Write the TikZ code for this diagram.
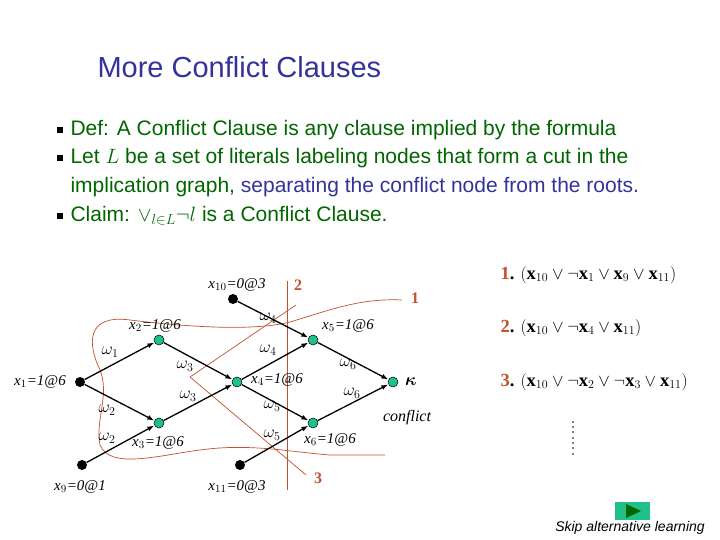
\documentclass[tikz,border=0pt]{standalone}
\usepackage{amsmath}
\usepackage{bm}
\usepackage{fontspec}
\setmainfont{Liberation Serif}
\setsansfont{Liberation Sans}
\usetikzlibrary{arrows.meta}
\definecolor{navy}{HTML}{333399}
\definecolor{dgreen}{HTML}{006600}
\definecolor{cut}{HTML}{C0522D}
\definecolor{nodegreen}{HTML}{20C08A}
\begin{document}
\begin{tikzpicture}[x=1pt,y=-1pt,
  blk/.style={circle,fill=black,inner sep=0pt,minimum size=10pt},
  grn/.style={circle,fill=nodegreen,draw=black,line width=0.5pt,inner sep=0pt,minimum size=10pt},
  edge/.style={line width=1.3pt,-{Latex[length=7pt,width=5pt]}},
  lab/.style={font=\fontsize{15}{15}\selectfont\itshape},
  wl/.style={font=\fontsize{17}{17}\selectfont},
  cutl/.style={cut,line width=0.7pt},
  cnum/.style={cut,font=\fontsize{16}{16}\selectfont\bfseries},
  body/.style={font=\sffamily\fontsize{21}{21}\selectfont,anchor=west,dgreen},
  clause/.style={anchor=west,font=\fontsize{18.5}{18.5}\selectfont},
  bul/.style={fill=black,minimum size=6pt,inner sep=0pt}]
\useasboundingbox (0,0) rectangle (720,540);
\fill[white] (0,0) rectangle (720,540);
\node[font=\sffamily\fontsize{29}{29}\selectfont,navy,anchor=west] (title) at (94,67) {More Conflict Clauses};
\node[bul] (b1) at (60,130) {};
\node[bul] (b2) at (60,158) {};
\node[bul] (b3) at (60,216) {};
\node[body] (t1) at (67,130) {Def: A Conflict Clause is any clause implied by the formula};
\node[body] (t2) at (67,158) {Let $L$ be a set of literals labeling nodes that form a cut in the};
\node[body] (t3) at (67,187) {implication graph, \textcolor{navy}{separating the conflict node from the roots.}};
\node[body] (t4) at (67,216) {Claim: $\vee_{l\in L}\neg l$ is a Conflict Clause.};
% cuts
\draw[cutl] (287,281) -- (287,490);
\draw[cutl] (296,305) -- (190,377) -- (306,475);
\draw[cutl] (402,300) .. controls (360,298) and (330,310) .. (290,322)
  .. controls (250,332) and (180,326) .. (130,320)
  .. controls (85,314) and (88,345) .. (100,370)
  .. controls (110,395) and (95,420) .. (100,445)
  .. controls (110,470) and (160,455) .. (200,450)
  .. controls (250,443) and (290,452) .. (330,455)
  -- (385,455);
\node[cnum] (c1) at (415,298) {1};
\node[cnum] (c2) at (298,285) {2};
\node[cnum] (c3) at (318,478) {3};
% nodes
\node[blk] (x1) at (80,382) {};
\node[grn] (x2) at (159,340) {};
\node[grn] (x3) at (159,423) {};
\node[blk] (x9) at (82,465) {};
\node[grn] (x4) at (237,382) {};
\node[blk] (x10) at (233,299) {};
\node[grn] (x5) at (313,340) {};
\node[grn] (x6) at (313,423) {};
\node[blk] (x11) at (240,465) {};
\node[grn] (k) at (393,382) {};
\draw[edge] (x1) -- (x2);
\draw[edge] (x1) -- (x3);
\draw[edge] (x9) -- (x3);
\draw[edge] (x2) -- (x4);
\draw[edge] (x3) -- (x4);
\draw[edge] (x10) -- (x5);
\draw[edge] (x4) -- (x5);
\draw[edge] (x4) -- (x6);
\draw[edge] (x11) -- (x6);
\draw[edge] (x5) -- (k);
\draw[edge] (x6) -- (k);
% labels
\node[lab] (lx10) at (237,285) {x$_{10}$=0@3};
\node[lab] (lx2) at (155,326) {x$_2$=1@6};
\node[lab] (lx5) at (348,326) {x$_5$=1@6};
\node[lab] (lx1) at (40,382) {x$_1$=1@6};
\node[lab] (lx4) at (277,380) {x$_4$=1@6};
\node[lab] (lx3) at (158,443) {x$_3$=1@6};
\node[lab] (lx6) at (330,440) {x$_6$=1@6};
\node[lab] (lx9) at (80,487) {x$_9$=0@1};
\node[lab] (lx11) at (237,487) {x$_{11}$=0@3};
\node[wl] (lk) at (411,382) {$\bm{\kappa}$};
\node[lab,font=\fontsize{16}{16}\selectfont\itshape] (lc) at (407,418) {conflict};
\node[wl] (w1) at (110,352) {$\omega_1$};
\node[wl] (w2a) at (107,410) {$\omega_2$};
\node[wl] (w2b) at (107,438) {$\omega_2$};
\node[wl] (w3a) at (185,366) {$\omega_3$};
\node[wl] (w3b) at (188,396) {$\omega_3$};
\node[wl] (w4a) at (268,318) {$\omega_4$};
\node[wl] (w4b) at (268,350) {$\omega_4$};
\node[wl] (w5a) at (272,406) {$\omega_5$};
\node[wl] (w5b) at (272,435) {$\omega_5$};
\node[wl] (w6a) at (348,364) {$\omega_6$};
\node[wl] (w6b) at (352,393) {$\omega_6$};
% clauses
\node[clause] (cl1) at (497,275) {\textcolor{cut}{\textbf{1}}\textbf{.} $(\mathbf{x}_{10}\vee\neg\mathbf{x}_1\vee\mathbf{x}_9\vee\mathbf{x}_{11})$};
\node[clause] (cl2) at (497,328) {\textcolor{cut}{\textbf{2}}\textbf{.} $(\mathbf{x}_{10}\vee\neg\mathbf{x}_4\vee\mathbf{x}_{11})$};
\node[clause] (cl3) at (497,382) {\textcolor{cut}{\textbf{3}}\textbf{.} $(\mathbf{x}_{10}\vee\neg\mathbf{x}_2\vee\neg\mathbf{x}_3\vee\mathbf{x}_{11})$};
\foreach \yy in {422,427,432,438,443,448,454} \fill (573,\yy) circle (0.9);
% button
\fill[nodegreen] (615,502) rectangle (650,520);
\fill[black!60!green] (626,504) -- (626,518) -- (641,511) -- cycle;
\node[font=\sffamily\fontsize{14}{14}\selectfont\itshape] (skip) at (630,528) {Skip alternative learning};
\end{tikzpicture}
\end{document}
